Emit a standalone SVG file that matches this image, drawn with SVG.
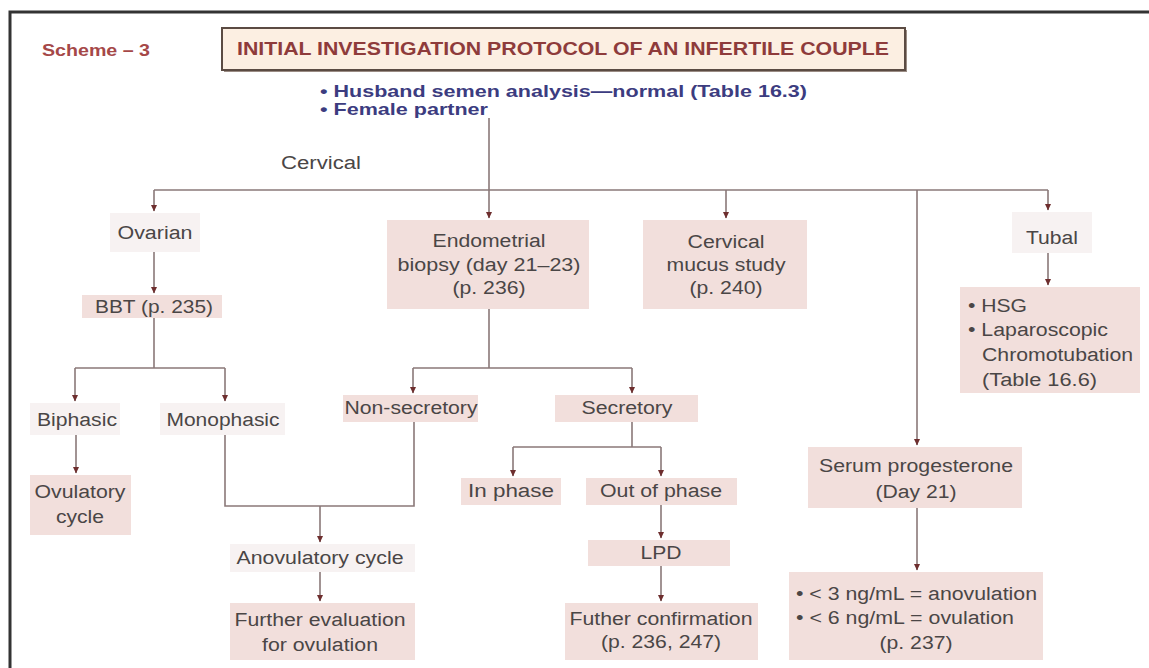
<svg xmlns="http://www.w3.org/2000/svg" width="1149" height="668" viewBox="0 0 1149 668">
<defs>
<marker id="ah" markerUnits="userSpaceOnUse" markerWidth="7" markerHeight="7" refX="6" refY="3.5" orient="auto">
<path d="M0,0.5 L6.5,3.5 L0,6.5 z" fill="#6e2e2e"/>
</marker>
<style>
.t{font-family:"Liberation Sans",Arial,sans-serif;font-size:18px;fill:#4a4646;dominant-baseline:central}
.m{text-anchor:middle}
.b{font-weight:bold}
.box{fill:#f2dfdc}
.faint{fill:#f7f2f2}
.ln{fill:none;stroke:#8a7878;stroke-width:1.6}
.ar{fill:none;stroke:#8a7878;stroke-width:1.6;marker-end:url(#ah)}
</style>
</defs>
<rect width="1149" height="668" fill="#ffffff"/>
<path d="M10,668 V12 H1149" fill="none" stroke="#333333" stroke-width="3"/>

<g id="scheme"><text class="t b" x="42" y="50" textLength="108" lengthAdjust="spacingAndGlyphs" style="fill:#a54848;font-size:16px">Scheme – 3</text></g>
<g id="title">
<rect x="224" y="30" width="683" height="42" fill="#9a8c84"/>
<rect x="222" y="28" width="683" height="42" fill="#fcefe2" stroke="#5b4b43" stroke-width="2"/>
<text class="t m b" x="563" y="49" textLength="652" lengthAdjust="spacingAndGlyphs" style="fill:#8e3b3b">INITIAL INVESTIGATION PROTOCOL OF AN INFERTILE COUPLE</text>
</g>
<g id="couple">
<text class="t b" x="320" y="91" textLength="487" lengthAdjust="spacingAndGlyphs" style="fill:#3c3c80;font-size:17px">• Husband semen analysis—normal (Table 16.3)</text>
<text class="t b" x="320" y="109" textLength="168" lengthAdjust="spacingAndGlyphs" style="fill:#3c3c80;font-size:17px">• Female partner</text>
</g>
<g id="cervical-label"><text class="t m" x="321" y="163" textLength="80" lengthAdjust="spacingAndGlyphs">Cervical</text></g>

<g id="connectors">
<path class="ln" d="M489,118 V190"/>
<path class="ln" d="M154,190 H1048"/>
<path class="ar" d="M154,190 V211"/>
<path class="ar" d="M489,190 V218"/>
<path class="ar" d="M726,190 V218"/>
<path class="ar" d="M917,190 V445"/>
<path class="ar" d="M1048,190 V210"/>
<path class="ar" d="M154,252 V293"/>
<path class="ln" d="M154,318 V368 M75,368 H225"/>
<path class="ar" d="M75,368 V401"/>
<path class="ar" d="M225,368 V401"/>
<path class="ar" d="M76,435 V473"/>
<path class="ln" d="M225,435 V506 H414 V422"/>
<path class="ar" d="M320,506 V542"/>
<path class="ar" d="M320,572 V601"/>
<path class="ln" d="M489,308 V368 M413,368 H632"/>
<path class="ar" d="M413,368 V393"/>
<path class="ar" d="M632,368 V393"/>
<path class="ln" d="M632,422 V447 M513,447 H661"/>
<path class="ar" d="M513,447 V476"/>
<path class="ar" d="M661,447 V476"/>
<path class="ar" d="M661,505 V538"/>
<path class="ar" d="M661,566 V601"/>
<path class="ar" d="M917,508 V570"/>
<path class="ar" d="M1048,253 V285"/>
</g>

<g id="ovarian"><rect class="faint" x="110" y="213" width="90" height="39"/><text class="t m" x="155" y="233" textLength="75" lengthAdjust="spacingAndGlyphs">Ovarian</text></g>
<g id="bbt"><rect class="box" x="82" y="295" width="140" height="23"/><text class="t m" x="154" y="307" textLength="118" lengthAdjust="spacingAndGlyphs">BBT (p. 235)</text></g>
<g id="biphasic"><rect class="faint" x="30" y="403" width="90" height="32"/><text class="t m" x="77" y="420" textLength="80" lengthAdjust="spacingAndGlyphs">Biphasic</text></g>
<g id="monophasic"><rect class="faint" x="160" y="403" width="125" height="32"/><text class="t m" x="223" y="420" textLength="113" lengthAdjust="spacingAndGlyphs">Monophasic</text></g>
<g id="ovulatory"><rect class="box" x="30" y="475" width="101" height="60"/><text class="t m" x="80" y="492" textLength="91" lengthAdjust="spacingAndGlyphs">Ovulatory</text><text class="t m" x="80" y="517" textLength="48" lengthAdjust="spacingAndGlyphs">cycle</text></g>
<g id="endometrial"><rect class="box" x="387" y="220" width="202" height="89"/>
<text class="t m" x="489" y="241" textLength="113" lengthAdjust="spacingAndGlyphs">Endometrial</text>
<text class="t m" x="489" y="265" textLength="183" lengthAdjust="spacingAndGlyphs">biopsy (day 21–23)</text>
<text class="t m" x="489" y="288" textLength="73" lengthAdjust="spacingAndGlyphs">(p. 236)</text></g>
<g id="cervical"><rect class="box" x="643" y="220" width="164" height="89"/>
<text class="t m" x="726" y="242" textLength="77" lengthAdjust="spacingAndGlyphs">Cervical</text>
<text class="t m" x="726" y="265" textLength="119" lengthAdjust="spacingAndGlyphs">mucus study</text>
<text class="t m" x="726" y="288" textLength="73" lengthAdjust="spacingAndGlyphs">(p. 240)</text></g>
<g id="tubal"><rect class="faint" x="1012" y="212" width="80" height="41"/><text class="t m" x="1052" y="238" textLength="52" lengthAdjust="spacingAndGlyphs">Tubal</text></g>
<g id="hsg"><rect class="box" x="960" y="287" width="180" height="106"/>
<text class="t" x="968" y="306" textLength="59" lengthAdjust="spacingAndGlyphs">• HSG</text>
<text class="t" x="968" y="330" textLength="140" lengthAdjust="spacingAndGlyphs">• Laparoscopic</text>
<text class="t" x="982" y="355" textLength="151" lengthAdjust="spacingAndGlyphs">Chromotubation</text>
<text class="t" x="982" y="380" textLength="115" lengthAdjust="spacingAndGlyphs">(Table 16.6)</text></g>
<g id="nonsecretory"><rect class="box" x="343" y="395" width="135" height="27"/><text class="t m" x="411" y="408" textLength="133" lengthAdjust="spacingAndGlyphs">Non-secretory</text></g>
<g id="secretory"><rect class="box" x="555" y="395" width="143" height="27"/><text class="t m" x="627" y="408" textLength="91" lengthAdjust="spacingAndGlyphs">Secretory</text></g>
<g id="inphase"><rect class="box" x="461" y="478" width="100" height="27"/><text class="t m" x="511" y="491" textLength="86" lengthAdjust="spacingAndGlyphs">In phase</text></g>
<g id="outphase"><rect class="box" x="586" y="478" width="151" height="27"/><text class="t m" x="661" y="491" textLength="122" lengthAdjust="spacingAndGlyphs">Out of phase</text></g>
<g id="lpd"><rect class="box" x="588" y="540" width="142" height="26"/><text class="t m" x="661" y="553" textLength="41" lengthAdjust="spacingAndGlyphs">LPD</text></g>
<g id="anovulatory"><rect class="faint" x="230" y="544" width="185" height="28"/><text class="t m" x="320" y="558" textLength="167" lengthAdjust="spacingAndGlyphs">Anovulatory cycle</text></g>
<g id="further"><rect class="box" x="230" y="603" width="185" height="57"/>
<text class="t m" x="320" y="620" textLength="171" lengthAdjust="spacingAndGlyphs">Further evaluation</text>
<text class="t m" x="320" y="645" textLength="116" lengthAdjust="spacingAndGlyphs">for ovulation</text></g>
<g id="confirmation"><rect class="box" x="565" y="603" width="193" height="57"/>
<text class="t m" x="661" y="619" textLength="183" lengthAdjust="spacingAndGlyphs">Futher confirmation</text>
<text class="t m" x="661" y="642" textLength="120" lengthAdjust="spacingAndGlyphs">(p. 236, 247)</text></g>
<g id="serum"><rect class="box" x="808" y="447" width="214" height="61"/>
<text class="t m" x="916" y="466" textLength="194" lengthAdjust="spacingAndGlyphs">Serum progesterone</text>
<text class="t m" x="916" y="492" textLength="81" lengthAdjust="spacingAndGlyphs">(Day 21)</text></g>
<g id="levels"><rect class="box" x="789" y="572" width="254" height="88"/>
<text class="t" x="796" y="594" textLength="241" lengthAdjust="spacingAndGlyphs">• &lt; 3 ng/mL = anovulation</text>
<text class="t" x="796" y="618" textLength="218" lengthAdjust="spacingAndGlyphs">• &lt; 6 ng/mL = ovulation</text>
<text class="t m" x="916" y="643" textLength="73" lengthAdjust="spacingAndGlyphs">(p. 237)</text></g>
</svg>
